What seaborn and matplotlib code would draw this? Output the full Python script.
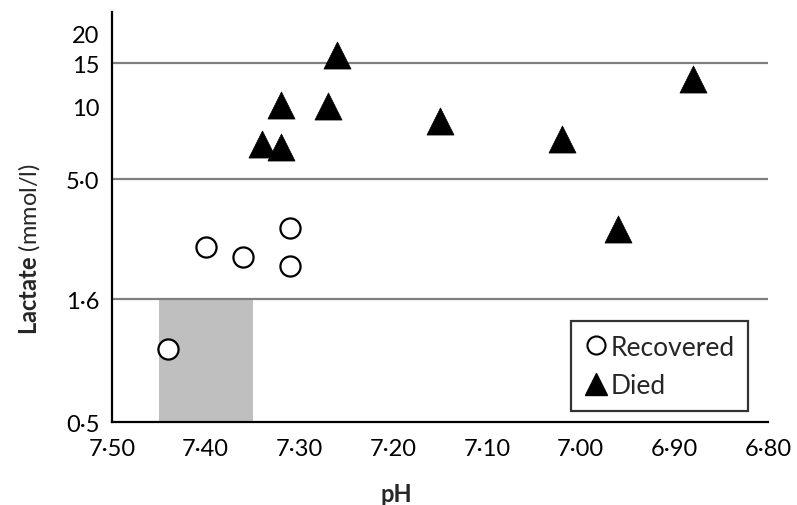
import matplotlib
matplotlib.use('Agg')
import matplotlib.pyplot as plt
from matplotlib.patches import Rectangle
import pandas as pd
import seaborn as sns

sns.set_style("white")
plt.rcParams['font.family'] = ['Lato', 'DejaVu Sans']
plt.rcParams['mathtext.fontset'] = 'custom'
plt.rcParams['mathtext.bf'] = 'Lato:bold'
plt.rcParams['mathtext.rm'] = 'Lato'

# data
recovered_ph = [7.44, 7.40, 7.36, 7.31, 7.31]
recovered_lac = [1.0, 2.64, 2.40, 3.16, 2.20]
died_ph = [7.34, 7.32, 7.32, 7.27, 7.26, 7.15, 7.02, 6.96, 6.88]
died_lac = [6.98, 6.79, 10.1, 10.0, 16.2, 8.7, 7.35, 3.13, 12.9]
ref_lines = [1.6, 5.0, 15]
normal_ph = (7.45, 7.35)
normal_lac = (0.5, 1.6)
x_ticks = [7.50, 7.40, 7.30, 7.20, 7.10, 7.00, 6.90, 6.80]
y_ticks = [0.5, 1.6, 5.0, 10, 15, 20]
y_labels = ['0·5', '1·6', '5·0', '10', '15', '20']

rec = pd.DataFrame({'pH': recovered_ph, 'lactate': recovered_lac})
died = pd.DataFrame({'pH': died_ph, 'lactate': died_lac})

fig = plt.figure(figsize=(7.97, 5.06), dpi=100)
ax = fig.add_axes([0.1405, 0.164, 0.8231, 0.810])

ax.set_yscale('log')
ax.set_xlim(7.50, 6.80)
ax.set_ylim(0.5, 24.4)

ax.add_patch(Rectangle((normal_ph[1], normal_lac[0]), normal_ph[0] - normal_ph[1],
                       normal_lac[1] - normal_lac[0], color='#bfbfbf', lw=0, zorder=1))
for v in ref_lines:
    ax.axhline(v, color='#7f7f7f', lw=1.6, zorder=2)

sns.scatterplot(data=rec, x='pH', y='lactate', ax=ax, marker='o', s=210,
                facecolor='white', edgecolor='black', linewidth=1.6, zorder=4)
sns.scatterplot(data=died, x='pH', y='lactate', ax=ax, marker='^', s=380,
                color='black', edgecolor='black', linewidth=0.5, zorder=4)

ax.set_xticks(x_ticks)
ax.set_xticklabels([f"{t:.2f}".replace('.', '·') for t in x_ticks])
ax.set_yticks(y_ticks)
ax.set_yticklabels(y_labels)
ax.minorticks_off()
ax.tick_params(axis='x', direction='out', length=7.5, width=1.5, labelsize=17, pad=4, colors='black')
ax.tick_params(axis='y', direction='inout', length=10, width=1.5, labelsize=17, pad=4, colors='black')

for side in ['top', 'right']:
    ax.spines[side].set_visible(False)
for side in ['left', 'bottom']:
    ax.spines[side].set_color('black')
    ax.spines[side].set_linewidth(1.6)

ax.set_xlabel('pH', fontsize=17, fontweight='bold')
ax.xaxis.set_label_coords(0.434, -0.146)
ax.set_ylabel(r'$\mathbf{Lactate}$ (mmol/l)', fontsize=17)
ax.yaxis.set_label_coords(-0.107, 0.425)

h1 = plt.Line2D([], [], marker='o', ls='', markersize=13, markerfacecolor='white',
                markeredgecolor='black', markeredgewidth=1.5)
h2 = plt.Line2D([], [], marker='^', ls='', markersize=16, color='black')
leg = ax.legend([h1, h2], ['Recovered', 'Died'], loc='lower right',
                bbox_to_anchor=(0.9695, 0.027), borderaxespad=0, fontsize=19,
                frameon=True, fancybox=False, edgecolor='black', handletextpad=0.12,
                handlelength=0.9, borderpad=0.5, labelspacing=0.5)
leg.get_frame().set_linewidth(1.6)

fig.savefig('out.png', dpi=100)
